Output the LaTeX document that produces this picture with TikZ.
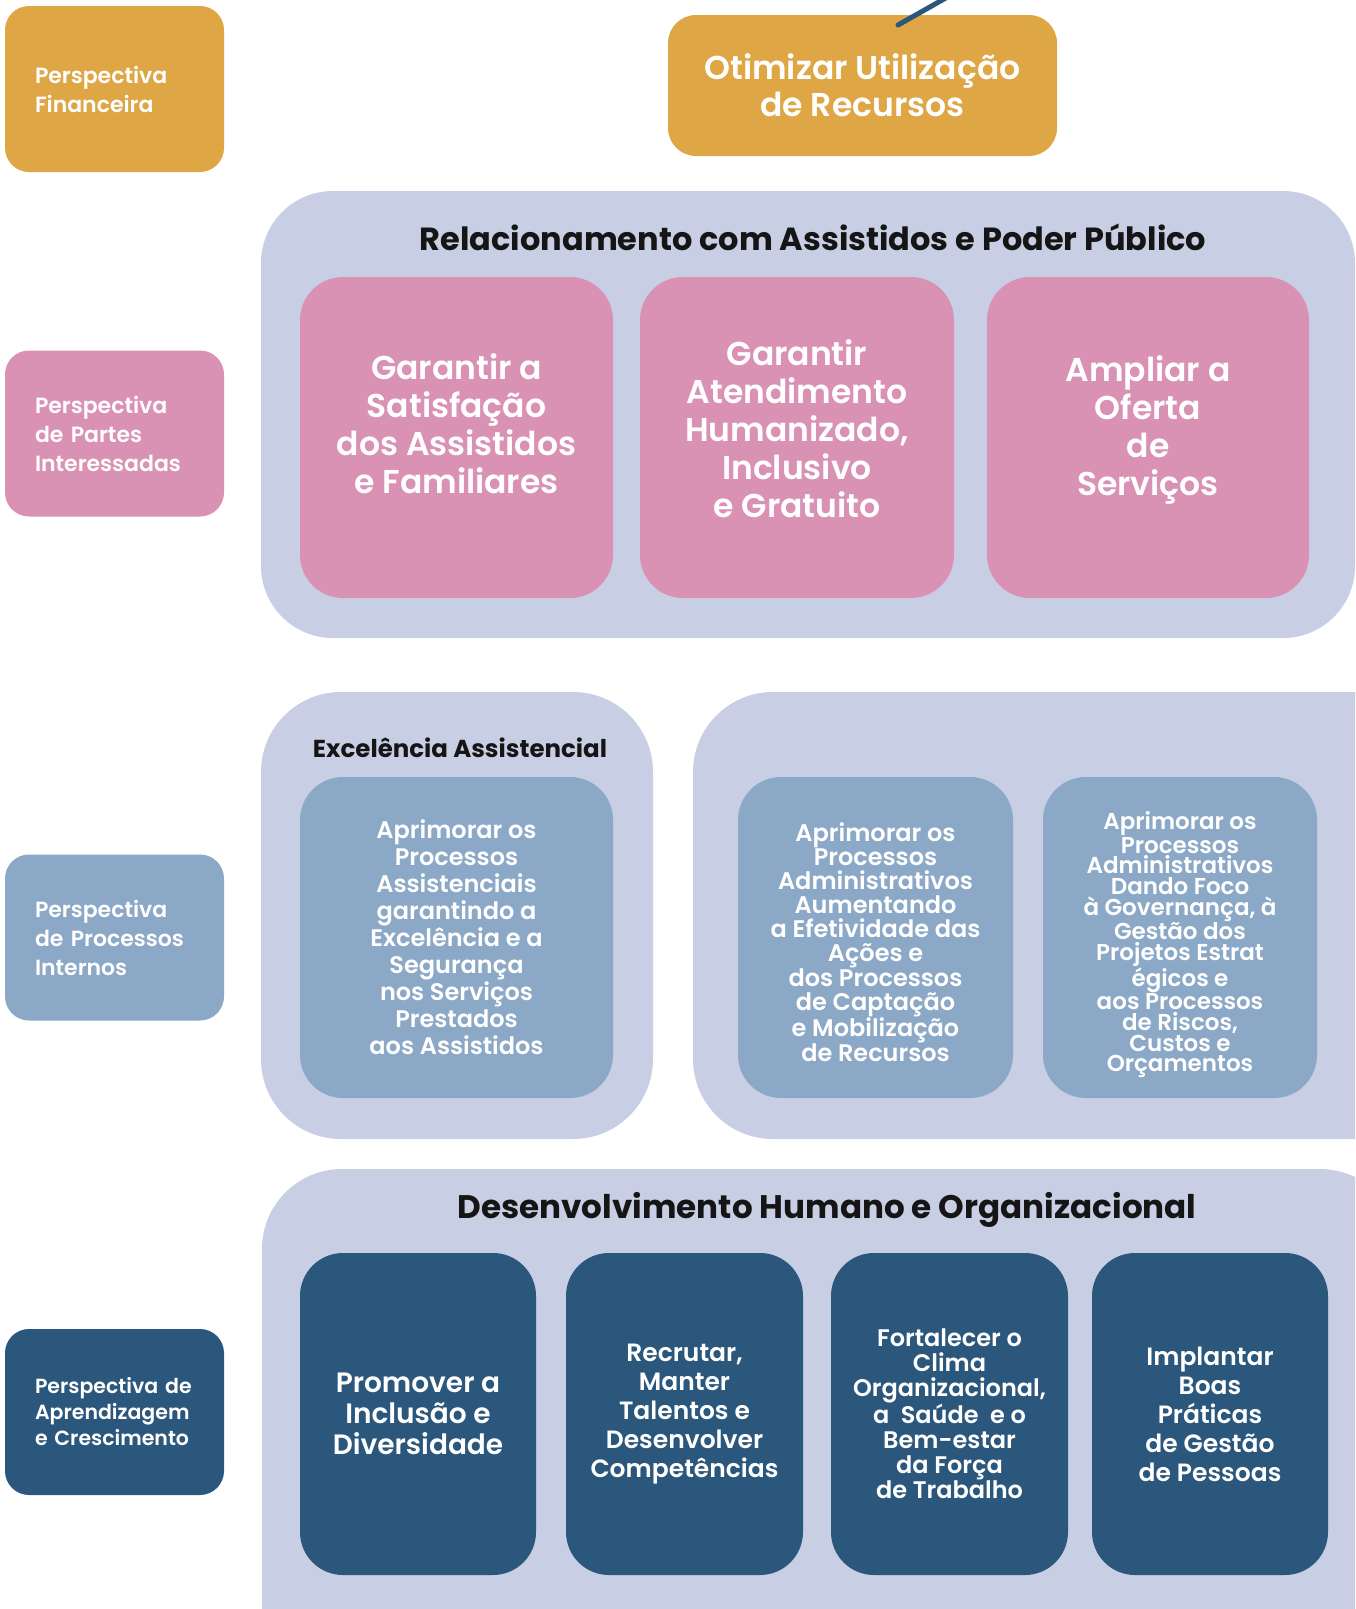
\documentclass[tikz,border=0pt]{standalone}
\usepackage{fontspec}
\setmainfont{Poppins}
\IfFontExistsTF{Poppins SemiBold}{\newfontfamily\boxfont{Poppins SemiBold}}{\newfontfamily\boxfont{Poppins}}

\definecolor{gold}{HTML}{DFA645}
\definecolor{rose}{HTML}{D992B4}
\definecolor{lilac}{HTML}{C8CEE3}
\definecolor{steel}{HTML}{8BA8C6}
\definecolor{navy}{HTML}{2B577C}
\definecolor{ink}{HTML}{151515}

\tikzstyle{persp}=[shape=rectangle,rounded corners=24pt,inner sep=0pt,minimum width=219pt,minimum height=166pt,text width=159pt,align=left,text=white,font=\boxfont\fontsize{22}{29}\selectfont]
\tikzstyle{panel}=[shape=rectangle,fill=lilac,inner sep=0pt,rounded corners=72pt]
\tikzstyle{title}=[text=ink,font=\bfseries\fontsize{32}{38}\selectfont]
\tikzstyle{goal}=[shape=rectangle,rounded corners=43pt,inner sep=0pt,minimum height=321pt,align=center,text=white]
\tikzstyle{goaltext}=[inner sep=0pt,align=center,text=white]
\tikzstyle{link}=[draw=navy,line width=5pt,line cap=round]

\begin{document}
\begin{tikzpicture}[x=1pt,y=-1pt]
        \clip (0,0) rectangle (1355,1609);
        % perspectives
        \node[persp,fill=gold] (fin) at (114.5,89) {Perspectiva\\Financeira};
        \node[persp,fill=rose] (par) at (114.5,433.5) {Perspectiva\\de Partes\\Interessadas};
        \node[persp,fill=steel] (pro) at (114.5,937.5) {Perspectiva\\de Processos\\Internos};
        \node[persp,fill=navy,font=\boxfont\fontsize{20.5}{26}\selectfont] (apr) at (114.5,1412) {Perspectiva~de\\Aprendizagem\\e Crescimento};
        % financial
        \node[goal,fill=gold,rounded corners=28pt,minimum width=389pt,minimum height=141pt,font=\boxfont\fontsize{33}{37}\selectfont] (otim) at (862.5,85.5) {Otimizar Utilização\\de Recursos};
        \coordinate (tail) at (898,25);
        \coordinate (head) at (960,-10);
        \draw[link] (tail) -- (head);
        % stakeholders
        \node[panel,minimum width=1094pt,minimum height=447pt] (rel) at (808,414.5) {};
        \node[title] (relT) at (813,237) {Relacionamento com Assistidos e Poder Público};
        \node[goal,fill=rose,minimum width=313pt] (sat) at (456.5,437.5) {};
        \node[goal,fill=rose,minimum width=314pt] (ate) at (797,437.5) {};
        \node[goal,fill=rose,minimum width=322pt] (ofe) at (1148,437.5) {};
        \node[goaltext,font=\boxfont\fontsize{33}{38}\selectfont] (satT) at (456.5,424) {Garantir a\\Satisfação\\dos Assistidos\\e Familiares};
        \node[goaltext,font=\boxfont\fontsize{33}{38}\selectfont] (ateT) at (797,429) {Garantir\\Atendimento\\Humanizado,\\Inclusivo\\e Gratuito};
        \node[goaltext,font=\boxfont\fontsize{33}{38}\selectfont] (ofeT) at (1148,430) {Ampliar a\\Oferta\\de\\Serviços};
        % internal processes
        \node[panel,minimum width=392pt,minimum height=447pt,rounded corners=80pt] (exc) at (457,915.5) {};
        \node[panel,minimum width=760pt,minimum height=447pt,rounded corners=80pt] (adm) at (1073,915.5) {};
        \node[title,font=\bfseries\fontsize{24.5}{30}\selectfont] (excT) at (460,748) {Excelência Assistencial};
        \node[goal,fill=steel,minimum width=313pt,font=\boxfont\fontsize{24}{27}\selectfont] (ass) at (456.5,937.5) {Aprimorar os\\Processos\\Assistenciais\\garantindo a\\Excelência e a\\Segurança\\nos Serviços\\Prestados\\aos Assistidos};
        \node[goal,fill=steel,minimum width=275pt] (efe) at (875.5,937.5) {};
        \node[goal,fill=steel,minimum width=274pt] (gov) at (1180,937.5) {};
        \node[goaltext,font=\boxfont\fontsize{24}{24}\selectfont] (efeT) at (875.5,942) {Aprimorar os\\Processos\\Administrativos\\Aumentando\\a Efetividade das\\Ações e\\dos Processos\\de Captação\\e Mobilização\\de Recursos};
        \node[goaltext,font=\boxfont\fontsize{23}{20.8}\selectfont] (govT) at (1180,945) {Aprimorar os\\Processos\\Administrativos\\Dando Foco\\à Governança, à\\Gestão dos\\Projetos Estrat\\égicos e\\aos Processos\\de Riscos,\\Custos e\\Orçamentos};
        % learning and growth
        \node[panel,minimum width=1138pt,minimum height=531pt,rounded corners=80pt] (dev) at (831,1434.5) {};
        \node[title,font=\bfseries\fontsize{32.6}{38}\selectfont] (devT) at (827,1210) {Desenvolvimento Humano e Organizacional};
        \node[goal,fill=navy,minimum width=236pt,minimum height=322pt,font=\boxfont\fontsize{28}{31}\selectfont] (inc) at (418,1414) {Promover a\\Inclusão e\\Diversidade};
        \node[goal,fill=navy,minimum width=237pt,minimum height=322pt,font=\boxfont\fontsize{25}{29}\selectfont] (tal) at (684.5,1414) {Recrutar,\\Manter\\Talentos e\\Desenvolver\\Competências};
        \node[goal,fill=navy,minimum width=237pt,minimum height=322pt,font=\boxfont\fontsize{24}{25}\selectfont] (cli) at (949.5,1414) {Fortalecer o\\Clima\\Organizacional,\\a\ \ Saúde\ \ e o\\Bem-estar\\da Força\\de Trabalho};
        \node[goal,fill=navy,minimum width=236pt,minimum height=322pt,font=\boxfont\fontsize{25}{29}\selectfont] (boa) at (1210,1414) {Implantar\\Boas\\Práticas\\de Gestão\\de Pessoas};
    \end{tikzpicture}
\end{document}
